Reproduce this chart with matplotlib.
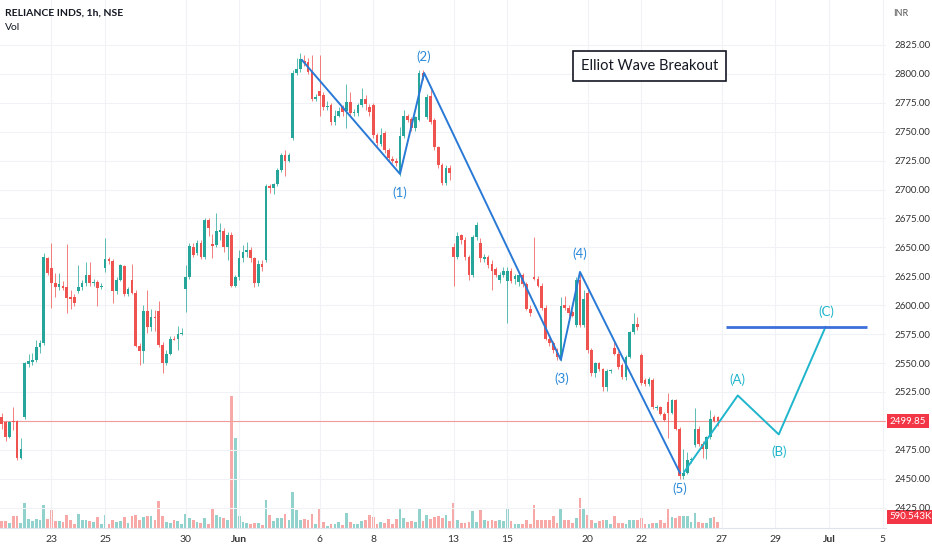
#!/usr/bin/env python3
"""RELIANCE INDS 1h candles with Elliott wave annotation."""

import matplotlib
matplotlib.use("Agg")
import matplotlib.pyplot as plt
from matplotlib.transforms import blended_transform_factory

plt.rcParams["font.family"] = ["Lato", "DejaVu Sans"]

UP = "#26a69a"
DOWN = "#ef5350"
UP_VOL = "#92d2cc"
DOWN_VOL = "#f7a9a7"
WAVE_BLUE = "#2979d6"
WAVE_CYAN = "#1fb5cc"

# hourly bars, index 0 = last bars of 19 May
opens = [
    2503, 2499, 2486, 2500, 2500, 2468, 2503, 2549, 2551, 2553,
    2564, 2567, 2641, 2632, 2619, 2616, 2617, 2616, 2607, 2607,
    2612, 2616, 2619, 2626, 2619, 2620, 2616, 2632, 2640, 2638,
    2612, 2622, 2634, 2610, 2622, 2611, 2565, 2560, 2595, 2581,
    2590, 2595, 2566, 2550, 2558, 2571, 2571, 2575, 2614, 2624,
    2650, 2645, 2654, 2642, 2674, 2653, 2652, 2663, 2664, 2650,
    2661, 2617, 2624, 2641, 2646, 2648, 2641, 2619, 2636, 2639,
    2703, 2701, 2705, 2717, 2730, 2725, 2745, 2801, 2804, 2811,
    2810, 2802, 2778, 2785, 2782, 2771, 2773, 2758, 2764, 2771,
    2768, 2776, 2766, 2766, 2773, 2778, 2771, 2773, 2747, 2739,
    2749, 2734, 2726, 2725, 2715, 2746, 2764, 2761, 2753, 2760,
    2801, 2763, 2781, 2760, 2737, 2721, 2706, 2719, 2650, 2642,
    2661, 2656, 2642, 2626, 2659, 2654, 2640, 2642, 2636, 2631,
    2622, 2626, 2621, 2630, 2623, 2620, 2626, 2618, 2597, 2624,
    2623, 2617, 2598, 2571, 2567, 2561, 2554, 2600, 2598, 2594,
    2583, 2622, 2583, 2611, 2561, 2541, 2550, 2545, 2529, 2543,
    2563, 2558, 2548, 2538, 2555, 2577, 2584, 2557, 2535, 2532,
    2535, 2511, 2512, 2506, 2516, 2507, 2518, 2493, 2452, 2455,
    2466, 2479, 2493, 2480, 2476, 2486, 2503, 2503,
]
highs = [
    2507, 2500, 2500, 2512, 2501, 2485, 2551, 2558, 2559, 2570,
    2570, 2645, 2642, 2654, 2628, 2628, 2621, 2653, 2613, 2610,
    2635, 2622, 2637, 2637, 2623, 2622, 2619, 2658, 2642, 2640,
    2624, 2636, 2635, 2616, 2636, 2613, 2567, 2600, 2613, 2597,
    2596, 2604, 2568, 2561, 2573, 2573, 2582, 2580, 2635, 2654,
    2654, 2656, 2656, 2675, 2675, 2662, 2680, 2671, 2667, 2663,
    2663, 2626, 2648, 2652, 2655, 2650, 2642, 2639, 2639, 2705,
    2705, 2706, 2719, 2732, 2734, 2732, 2803, 2814, 2818, 2816,
    2814, 2816, 2783, 2816, 2784, 2777, 2775, 2769, 2771, 2773,
    2791, 2784, 2770, 2775, 2788, 2782, 2774, 2775, 2749, 2753,
    2751, 2736, 2729, 2727, 2754, 2769, 2765, 2763, 2764, 2803,
    2803, 2783, 2786, 2762, 2738, 2723, 2721, 2721, 2654, 2663,
    2662, 2659, 2643, 2661, 2672, 2658, 2644, 2643, 2639, 2633,
    2629, 2633, 2633, 2632, 2627, 2628, 2628, 2620, 2600, 2659,
    2625, 2619, 2600, 2573, 2569, 2563, 2607, 2608, 2600, 2596,
    2624, 2629, 2613, 2613, 2563, 2551, 2551, 2546, 2545, 2545,
    2570, 2560, 2550, 2557, 2578, 2593, 2590, 2559, 2537, 2538,
    2537, 2514, 2513, 2508, 2524, 2519, 2519, 2495, 2476, 2473,
    2469, 2511, 2496, 2483, 2487, 2509, 2505, 2504,
]
lows = [
    2493, 2483, 2485, 2492, 2466, 2467, 2502, 2547, 2548, 2551,
    2559, 2566, 2626, 2598, 2607, 2613, 2613, 2593, 2597, 2599,
    2611, 2613, 2617, 2617, 2617, 2599, 2614, 2629, 2636, 2602,
    2610, 2621, 2608, 2608, 2610, 2564, 2548, 2550, 2576, 2578,
    2578, 2564, 2541, 2548, 2557, 2570, 2561, 2574, 2594, 2623,
    2642, 2643, 2640, 2640, 2660, 2641, 2650, 2656, 2646, 2639,
    2616, 2616, 2622, 2637, 2642, 2637, 2616, 2617, 2630, 2637,
    2697, 2696, 2703, 2715, 2712, 2724, 2743, 2799, 2802, 2807,
    2800, 2777, 2777, 2764, 2769, 2769, 2756, 2756, 2763, 2764,
    2753, 2764, 2764, 2764, 2771, 2769, 2764, 2745, 2738, 2738,
    2732, 2725, 2723, 2720, 2712, 2745, 2758, 2751, 2751, 2759,
    2795, 2761, 2757, 2734, 2719, 2704, 2704, 2708, 2617, 2640,
    2653, 2639, 2622, 2624, 2656, 2637, 2637, 2632, 2613, 2624,
    2619, 2624, 2585, 2619, 2618, 2617, 2616, 2596, 2591, 2622,
    2616, 2596, 2570, 2565, 2559, 2553, 2552, 2596, 2591, 2590,
    2581, 2581, 2581, 2559, 2539, 2538, 2543, 2526, 2526, 2541,
    2557, 2545, 2536, 2535, 2554, 2575, 2579, 2531, 2530, 2530,
    2510, 2509, 2505, 2500, 2485, 2506, 2492, 2450, 2450, 2454,
    2464, 2477, 2478, 2468, 2467, 2484, 2499, 2496,
]
closes = [
    2497, 2486, 2499, 2499, 2468, 2476, 2550, 2552, 2553, 2564,
    2567, 2642, 2628, 2619, 2616, 2618, 2615, 2606, 2605, 2602,
    2616, 2619, 2626, 2619, 2620, 2615, 2617, 2640, 2638, 2612,
    2622, 2635, 2610, 2614, 2611, 2565, 2560, 2595, 2581, 2590,
    2589, 2566, 2550, 2558, 2571, 2570, 2575, 2576, 2624, 2651,
    2643, 2654, 2642, 2674, 2667, 2651, 2664, 2665, 2650, 2661,
    2617, 2624, 2641, 2646, 2648, 2641, 2619, 2636, 2633, 2703,
    2701, 2705, 2717, 2730, 2725, 2730, 2801, 2804, 2813, 2809,
    2802, 2778, 2780, 2781, 2771, 2772, 2758, 2764, 2768, 2767,
    2776, 2766, 2767, 2773, 2778, 2774, 2767, 2747, 2740, 2747,
    2734, 2727, 2725, 2723, 2746, 2764, 2760, 2753, 2763, 2801,
    2797, 2780, 2758, 2737, 2721, 2706, 2719, 2714, 2642, 2660,
    2656, 2642, 2626, 2659, 2669, 2641, 2642, 2635, 2630, 2626,
    2626, 2630, 2630, 2621, 2625, 2626, 2618, 2597, 2593, 2623,
    2617, 2598, 2571, 2567, 2561, 2555, 2599, 2598, 2593, 2591,
    2622, 2583, 2605, 2561, 2541, 2550, 2545, 2529, 2543, 2544,
    2558, 2547, 2538, 2555, 2577, 2584, 2581, 2533, 2532, 2536,
    2512, 2512, 2506, 2501, 2507, 2518, 2493, 2452, 2455, 2466,
    2467, 2493, 2480, 2476, 2486, 2502, 2500, 2499.85,
]
# volume in thousands
volumes = [
    689, 689, 492, 1181, 1181, 492, 2460, 886, 689, 886,
    787, 2263, 886, 1771, 689, 689, 590, 1279, 787, 394,
    1378, 787, 787, 689, 590, 1082, 394, 1279, 394, 787,
    590, 689, 1082, 492, 1181, 1279, 787, 1082, 1181, 1181,
    787, 2657, 1181, 590, 492, 787, 689, 394, 1378, 984,
    787, 590, 492, 984, 394, 1870, 1279, 1082, 984, 787,
    12989, 8856, 1181, 590, 492, 394, 492, 492, 295, 2755,
    1279, 689, 984, 984, 1378, 787, 3542, 1771, 787, 886,
    787, 1378, 394, 1870, 590, 197, 394, 394, 590, 295,
    1476, 590, 394, 394, 689, 787, 1279, 1082, 394, 590,
    492, 886, 394, 886, 1870, 984, 590, 689, 590, 1870,
    689, 1279, 886, 1082, 1181, 984, 1279, 689, 2460, 787,
    492, 492, 590, 1673, 590, 1771, 787, 689, 787, 689,
    787, 689, 1870, 689, 394, 394, 394, 787, 394, 2263,
    787, 787, 787, 787, 1181, 492, 1968, 787, 787, 492,
    984, 2952, 1968, 1279, 787, 492, 689, 787, 787, 394,
    1181, 492, 492, 394, 787, 787, 787, 984, 394, 394,
    492, 492, 787, 492, 1968, 1082, 984, 1181, 1181, 1181,
    590, 1476, 590, 492, 492, 984, 1082, 590.543,
]

tick_bars = [13, 27, 48, 62, 83, 97, 118, 132, 153, 167, 188, 202, 216, 230]
tick_labels = ["23", "25", "30", "Jun", "6", "8", "13", "15", "20", "22",
               "27", "29", "Jul", "5"]
month_labels = {"Jun", "Jul"}
price_ticks = [2425 + 25 * k for k in range(17)]

# wave pivots (bar index, price)
impulse_x = [78.4, 104.0, 110.3, 146.0, 151.0, 177.1]
impulse_y = [2812.0, 2713.5, 2800.8, 2552.7, 2628.8, 2455.0]
impulse_names = ["(1)", "(2)", "(3)", "(4)", "(5)"]
impulse_label_x = [104.0, 110.3, 146.3, 151.0, 177.1]
impulse_label_y = [2697.0, 2814.6, 2536.3, 2644.3, 2441.2]

corrective_x = [178.2, 192.2, 202.9, 215.1]
corrective_y = [2455.9, 2522.0, 2488.3, 2581.2]
corrective_names = ["(A)", "(B)", "(C)"]
corrective_label_x = [192.0, 202.9, 215.2]
corrective_label_y = [2535.4, 2473.2, 2594.2]

target_level = 2581.2
target_span = [189.1, 225.9]
last_price = 2499.85
last_volume = 590.543


def main():
    fig = plt.figure(figsize=(9.32, 5.5), dpi=100)
    ax = fig.add_axes([0.0, 22 / 550, 886 / 932, 528 / 550])
    vax = ax.twinx()
    ax.set_zorder(vax.get_zorder() + 1)
    ax.patch.set_visible(False)
    vax.set_facecolor("white")

    bars = list(range(len(closes)))
    rising = [c >= o for o, c in zip(opens, closes)]

    # volume overlay
    vax.bar(bars, volumes, width=0.72,
            color=[UP_VOL if r else DOWN_VOL for r in rising], linewidth=0)
    vax.set_ylim(0, 51955)
    vax.set_yticks([])
    for side in vax.spines.values():
        side.set_visible(False)

    # candles
    ax.vlines(bars, lows, highs, colors=[UP if r else DOWN for r in rising],
              linewidth=0.7, alpha=0.75, zorder=3)
    bottoms = [min(o, c) for o, c in zip(opens, closes)]
    heights = [max(abs(c - o), 0.7) for o, c in zip(opens, closes)]
    ax.bar(bars, heights, bottom=bottoms, width=0.7,
           color=[UP if r else DOWN for r in rising], linewidth=0, zorder=4)

    ax.set_xlim(-0.444, 230.9)
    ax.set_ylim(2407.4, 2863.9)

    ax.axhline(last_price, color="#f29b9b", linewidth=0.8, zorder=2)

    # impulse waves
    ax.plot(impulse_x, impulse_y, color=WAVE_BLUE, linewidth=1.4, zorder=6)
    for name, lx, ly in zip(impulse_names, impulse_label_x, impulse_label_y):
        ax.text(lx, ly, name, color="#2a88d8", fontsize=9.5,
                ha="center", va="center", zorder=7)

    # corrective waves
    ax.plot(corrective_x, corrective_y, color=WAVE_CYAN, linewidth=1.4, zorder=6)
    for name, lx, ly in zip(corrective_names, corrective_label_x, corrective_label_y):
        ax.text(lx, ly, name, color=WAVE_CYAN, fontsize=9.5,
                ha="center", va="center", zorder=7)
    ax.hlines(target_level, target_span[0], target_span[1],
              color="#3d6fdb", linewidth=2.0, zorder=6)

    ax.text(169.1, 2806.8, "Elliot Wave Breakout", fontsize=10.5,
            color="#131722", ha="center", va="center", zorder=8,
            bbox=dict(boxstyle="square,pad=0.55", facecolor="white",
                      edgecolor="#131722", linewidth=1.2))

    # axes styling
    ax.set_xticks(tick_bars)
    ax.set_xticklabels(tick_labels)
    for label in ax.get_xticklabels():
        if label.get_text() in month_labels:
            label.set_fontweight("bold")
    ax.set_yticks(price_ticks)
    # the last-price tag takes the place of the 2500 label
    ax.set_yticklabels(["" if abs(p - last_price) < 5 else f"{p:.2f}"
                        for p in price_ticks])
    ax.yaxis.tick_right()
    ax.tick_params(axis="y", length=0, pad=6, labelsize=7, labelcolor="#333333")
    ax.tick_params(axis="x", length=0, pad=5, labelsize=7.5, labelcolor="#333333")
    for label in ax.get_yticklabels():
        label.set_horizontalalignment("left")
    ax.grid(True, color="#f0f2f6", linewidth=0.8, zorder=0)
    ax.set_axisbelow(True)
    for name, side in ax.spines.items():
        side.set_visible(name == "bottom")
    ax.spines["bottom"].set_color("#e0e3eb")
    ax.spines["bottom"].set_linewidth(0.8)

    # last price / volume tags
    tag_trans = blended_transform_factory(ax.transAxes, ax.transData)
    ax.text(1.004, last_price, f"{last_price:.2f}", transform=tag_trans,
            fontsize=7, color="white", ha="left", va="center", clip_on=False,
            zorder=9, bbox=dict(boxstyle="square,pad=0.3", facecolor="#f23645",
                                edgecolor="none"))
    vol_trans = blended_transform_factory(vax.transAxes, vax.transData)
    vax.text(1.004, last_volume + 500, f"{last_volume:.3f}K", transform=vol_trans,
             fontsize=7, color="white", ha="left", va="center", clip_on=False,
             zorder=9, bbox=dict(boxstyle="square,pad=0.3", facecolor="#f23645",
                                 edgecolor="none"))

    # header texts
    fig.text(5 / 932, 1 - 13 / 550, "RELIANCE INDS, 1h, NSE", fontsize=7.5,
             color="#131722", fontweight="bold", ha="left", va="center")
    fig.text(5 / 932, 1 - 27 / 550, "Vol", fontsize=7.5, color="#131722",
             ha="left", va="center")
    fig.text(893 / 932, 1 - 13 / 550, "INR", fontsize=6.5, color="#555555",
             ha="left", va="center")

    fig.savefig("out.png", dpi=100, facecolor="white")
    plt.close(fig)


if __name__ == "__main__":
    main()
